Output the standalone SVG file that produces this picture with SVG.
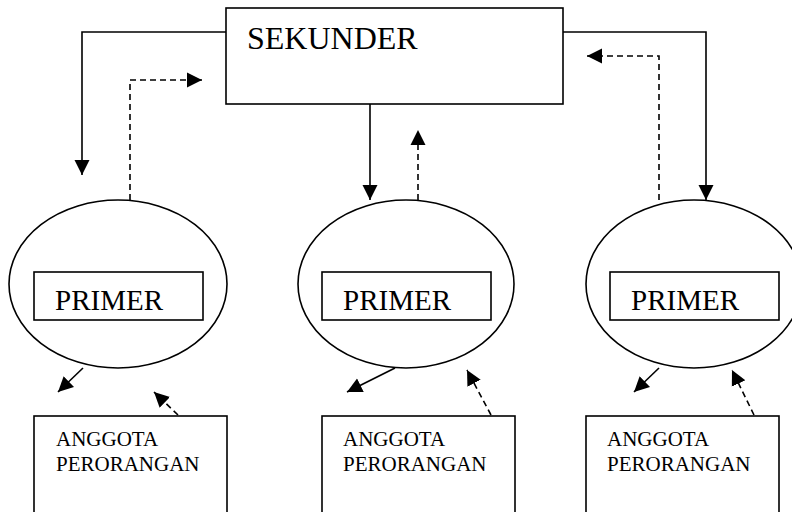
<svg xmlns="http://www.w3.org/2000/svg" width="792" height="512" viewBox="0 0 792 512">
  <style>
    .box { fill: #fff; stroke: #000; stroke-width: 1.6; }
    .oval { fill: #fff; stroke: #000; stroke-width: 1.6; }
    .big { font-family: "Liberation Serif", "Times New Roman", serif; font-size: 32px; fill: #000; }
    .mid { font-family: "Liberation Serif", "Times New Roman", serif; font-size: 29px; fill: #000; }
    .small { font-family: "Liberation Serif", "Times New Roman", serif; font-size: 21px; fill: #000; }
    .solid { fill: none; stroke: #000; stroke-width: 1.6; marker-end: url(#head); }
    .dash { fill: none; stroke: #000; stroke-width: 1.6; stroke-dasharray: 6 4; marker-end: url(#head); }
  </style>
  <defs>
    <marker id="head" markerUnits="userSpaceOnUse" markerWidth="16" markerHeight="16" refX="15" refY="8" orient="auto">
      <path d="M0,0.5 L15,8 L0,15.5 Z" fill="#000"/>
    </marker>
  </defs>
  <rect width="792" height="512" fill="#fff"/>

  <g id="sekunder">
    <rect class="box" x="226" y="8" width="337" height="96"/>
    <text class="big" x="247" y="49">SEKUNDER</text>
  </g>

  <g id="primer-1">
    <ellipse class="oval" cx="118" cy="284" rx="109" ry="84"/>
    <rect class="box" x="34" y="272" width="169" height="48"/>
    <text class="mid" x="55" y="310">PRIMER</text>
  </g>
  <g id="primer-2">
    <ellipse class="oval" cx="406" cy="284" rx="108" ry="84"/>
    <rect class="box" x="322" y="272" width="169" height="48"/>
    <text class="mid" x="343" y="310">PRIMER</text>
  </g>
  <g id="primer-3">
    <ellipse class="oval" cx="694" cy="284" rx="108" ry="84"/>
    <rect class="box" x="610" y="272" width="169" height="48"/>
    <text class="mid" x="631" y="310">PRIMER</text>
  </g>

  <g id="anggota-1">
    <rect class="box" x="34" y="416" width="193" height="110"/>
    <text class="small" x="56" y="446">ANGGOTA</text>
    <text class="small" x="56" y="471">PERORANGAN</text>
  </g>
  <g id="anggota-2">
    <rect class="box" x="322" y="416" width="193" height="110"/>
    <text class="small" x="343" y="446">ANGGOTA</text>
    <text class="small" x="343" y="471">PERORANGAN</text>
  </g>
  <g id="anggota-3">
    <rect class="box" x="586" y="416" width="193" height="110"/>
    <text class="small" x="607" y="446">ANGGOTA</text>
    <text class="small" x="607" y="471">PERORANGAN</text>
  </g>

  <g id="connectors">
    <path class="solid" d="M226,32 H82 V175"/>
    <path class="dash" d="M130,200 V80 H202"/>
    <path class="solid" d="M370,104 V200"/>
    <path class="dash" d="M418,200 V130"/>
    <path class="solid" d="M563,32 H706 V200"/>
    <path class="dash" d="M659,200 V56 H587"/>

    <path class="solid" d="M83,368 L58,392"/>
    <path class="dash" d="M178,415 L154,392"/>
    <path class="solid" d="M395,368 L347,392"/>
    <path class="dash" d="M491,415 L467,370"/>
    <path class="solid" d="M659,368 L634,392"/>
    <path class="dash" d="M754,415 L732,370"/>
  </g>
</svg>
